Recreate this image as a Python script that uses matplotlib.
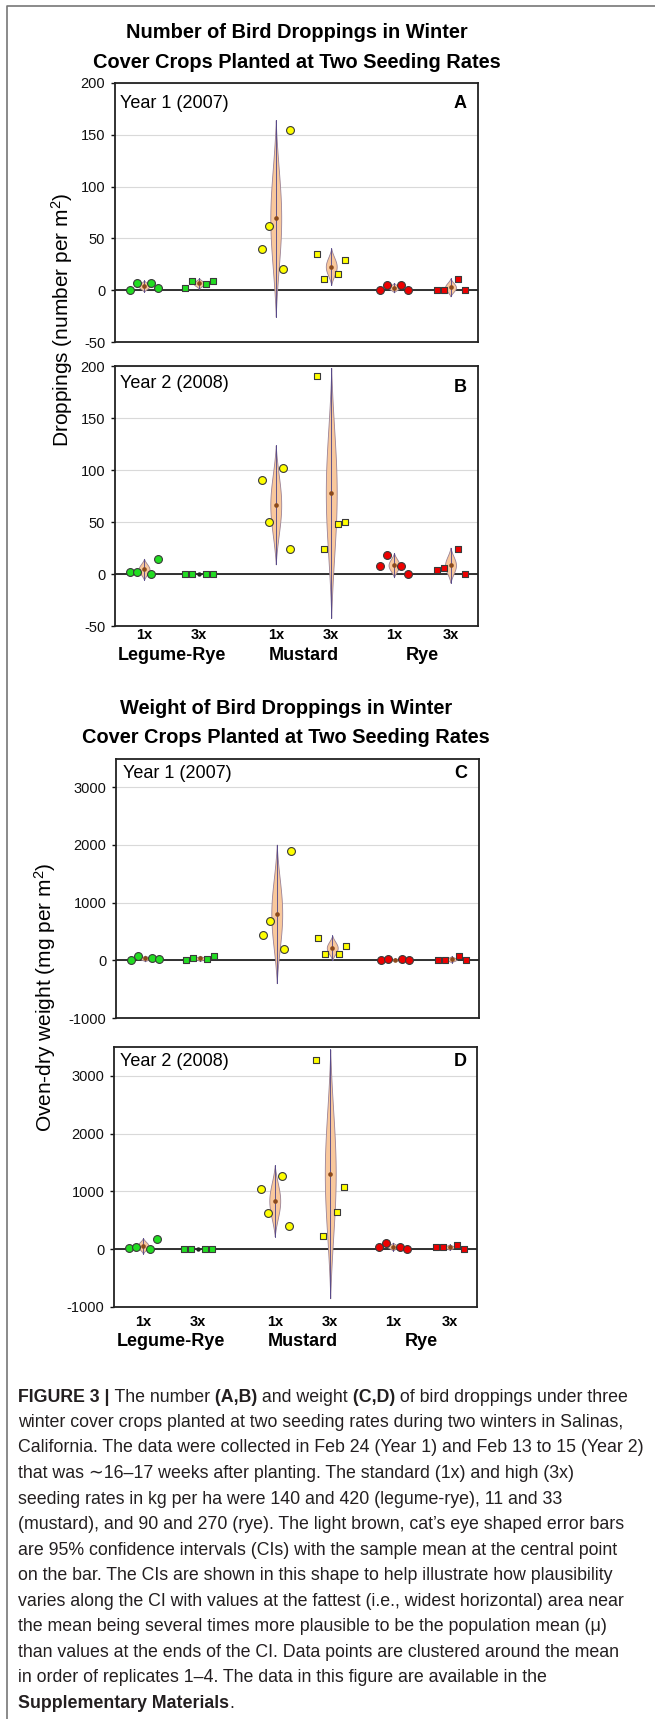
import matplotlib
matplotlib.use('Agg')
import matplotlib.pyplot as plt
import numpy as np
from matplotlib.lines import Line2D
from matplotlib.transforms import blended_transform_factory

W, H = 655, 1719

plt.rcParams['font.family'] = ['Liberation Sans', 'DejaVu Sans']
plt.rcParams['mathtext.fontset'] = 'custom'
plt.rcParams['mathtext.rm'] = 'Liberation Sans'
plt.rcParams['mathtext.it'] = 'Liberation Sans:italic'
plt.rcParams['mathtext.bf'] = 'Liberation Sans:bold'
plt.rcParams['axes.unicode_minus'] = False

# ---------------- data (4 replicates per treatment) ----------------
crops = ['Legume-Rye', 'Mustard', 'Rye']
rates = ['1x', '3x']
# order: Legume-Rye 1x, 3x, Mustard 1x, 3x, Rye 1x, 3x
num_y1 = [[0, 7, 7, 2], [2, 9, 6, 9], [40, 62, 20, 155],
          [35, 11, 16, 29], [0, 5, 5, 0], [0, 0, 11, 0]]
num_y2 = [[2, 2, 0, 14], [0, 0, 0, 0], [90, 50, 102, 24],
          [190, 24, 48, 50], [8, 18, 8, 0], [4, 6, 24, 0]]
wt_y1 = [[0, 75, 35, 20], [0, 40, 20, 70], [440, 680, 200, 1900],
         [394, 110, 110, 249], [0, 15, 30, 0], [0, 0, 70, 0]]
wt_y2 = [[15, 35, 0, 185], [0, 0, 0, 0], [1050, 635, 1260, 405],
         [3270, 236, 640, 1072], [40, 105, 35, 0], [35, 35, 75, 0]]

T95 = 3.182  # t critical, df = 3

crop_colors = ['#22dd22', '#ffff00', '#ee0000']
pos = [0.56, 1.62, 3.10, 4.17, 5.38, 6.47]
offsets = np.array([-0.27, -0.135, 0.135, 0.27])
EYE_W = 0.105

fig = plt.figure(figsize=(W / 100, H / 100), dpi=100)


def ftext(x, y, s, **kw):
    return fig.text(x / W, 1 - y / H, s, **kw)


def add_ax(l, r, t, b):
    return fig.add_axes([l / W, 1 - b / H, (r - l) / W, (b - t) / H])


def draw_panel(ax, data, ylim, ticks):
    ax.set_xlim(0, 7)
    ax.set_ylim(*ylim)
    ax.set_yticks(ticks)
    ax.set_xticks([])
    ax.grid(axis='y', color='#d9d9d9', lw=0.8)
    ax.set_axisbelow(True)
    for sp in ax.spines.values():
        sp.set_linewidth(1.3)
        sp.set_color('#222222')
    ax.tick_params(axis='y', length=3, width=1, pad=4, labelsize=10.5,
                   colors='#111111')
    ax.axhline(0, color='#222222', lw=1.3, zorder=1.5)
    for i, vals in enumerate(data):
        vals = np.array(vals, float)
        x0 = pos[i]
        m = vals.mean()
        se = vals.std(ddof=1) / 2
        h = T95 * se
        if h > 0:
            yy = np.linspace(m - h, m + h, 301)
            u = 1.96 * (yy - m) / h
            f = np.exp(-0.5 * u ** 2)
            f0 = np.exp(-0.5 * 1.96 ** 2)
            w = EYE_W * (f - f0) / (1 - f0)
            ax.fill_betweenx(yy, x0 - w, x0 + w, facecolor='#f9c89c',
                             edgecolor='#9a8296', lw=0.6, zorder=2)
            ax.plot([x0, x0], [m - h, m + h], color='#4a4088', lw=0.6,
                    zorder=2.5)
            ax.scatter([x0], [m], s=11, color='#8b4a1c', zorder=4,
                       linewidths=0)
        else:
            ax.scatter([x0], [m], s=10, color='#222222', zorder=4,
                       linewidths=0)
        mk = 'o' if i % 2 == 0 else 's'
        ax.scatter(x0 + offsets, vals, s=32 if mk == 'o' else 24, marker=mk,
                   c=crop_colors[i // 2], edgecolors='#3a3a3a',
                   linewidths=0.8, zorder=3)


def xlabels(ax, y_rate, y_crop):
    tr = blended_transform_factory(ax.transData, fig.transFigure)
    for i, p in enumerate(pos):
        ax.text(p, 1 - y_rate / H, rates[i % 2], transform=tr, ha='center',
                va='center', fontsize=10.5, fontweight='bold')
    for j, c in enumerate(crops):
        xc = (pos[2 * j] + pos[2 * j + 1]) / 2
        ax.text(xc, 1 - y_crop / H, c, transform=tr, ha='center',
                va='center', fontsize=13, fontweight='bold')


# ---------------- number panels ----------------
ftext(297, 33, 'Number of Bird Droppings in Winter', ha='center',
      va='center', fontsize=14.4, fontweight='bold')
ftext(297, 62, 'Cover Crops Planted at Two Seeding Rates', ha='center',
      va='center', fontsize=14.4, fontweight='bold')

axA = add_ax(115, 478, 83, 342)
draw_panel(axA, num_y1, (-50, 200), np.arange(-50, 201, 50))
axB = add_ax(115, 478, 366, 626)
draw_panel(axB, num_y2, (-50, 200), np.arange(-50, 201, 50))
xlabels(axB, 635, 655)

ftext(120, 104, 'Year 1 (2007)', ha='left', va='center', fontsize=13)
ftext(460, 103, 'A', ha='center', va='center', fontsize=13, fontweight='bold')
ftext(120, 384, 'Year 2 (2008)', ha='left', va='center', fontsize=13)
ftext(460, 387, 'B', ha='center', va='center', fontsize=13, fontweight='bold')

ftext(62, 320, 'Droppings (number per m$^2$)', ha='center', va='center',
      rotation=90, fontsize=15)

# ---------------- weight panels ----------------
ftext(286, 708, 'Weight of Bird Droppings in Winter', ha='center',
      va='center', fontsize=14.4, fontweight='bold')
ftext(286, 737, 'Cover Crops Planted at Two Seeding Rates', ha='center',
      va='center', fontsize=14.4, fontweight='bold')

axC = add_ax(116, 479, 759, 1018)
draw_panel(axC, wt_y1, (-1000, 3490), np.arange(-1000, 3001, 1000))
axD = add_ax(114, 477, 1047, 1307)
draw_panel(axD, wt_y2, (-1000, 3500), np.arange(-1000, 3001, 1000))
xlabels(axD, 1322, 1341)

ftext(123, 773, 'Year 1 (2007)', ha='left', va='center', fontsize=13)
ftext(461, 773, 'C', ha='center', va='center', fontsize=13, fontweight='bold')
ftext(120, 1061, 'Year 2 (2008)', ha='left', va='center', fontsize=13)
ftext(460, 1061, 'D', ha='center', va='center', fontsize=13, fontweight='bold')

ftext(45, 997, 'Oven-dry weight (mg per m$^2$)', ha='center', va='center',
      rotation=90, fontsize=15)

# ---------------- caption ----------------
caption = [
    [('FIGURE 3 |', 1), (' The number', 0), (' (A,B)', 1), (' and weight', 0),
     (' (C,D)', 1), (' of bird droppings under three', 0)],
    [('winter cover crops planted at two seeding rates during two winters in Salinas,', 0)],
    [('California. The data were collected in Feb 24 (Year 1) and Feb 13 to 15 (Year 2)', 0)],
    [('that was \u223c16\u201317 weeks after planting. The standard (1x) and high (3x)', 0)],
    [('seeding rates in kg per ha were 140 and 420 (legume-rye), 11 and 33', 0)],
    [('(mustard), and 90 and 270 (rye). The light brown, cat\u2019s eye shaped error bars', 0)],
    [('are 95% confidence intervals (CIs) with the sample mean at the central point', 0)],
    [('on the bar. The CIs are shown in this shape to help illustrate how plausibility', 0)],
    [('varies along the CI with values at the fattest (i.e., widest horizontal) area near', 0)],
    [('the mean being several times more plausible to be the population mean (\u03bc)', 0)],
    [('than values at the ends of the CI. Data points are clustered around the mean', 0)],
    [('in order of replicates 1\u20134. The data in this figure are available in the', 0)],
    [('Supplementary Materials', 1), ('.', 0)],
]

renderer = fig.canvas.get_renderer()
for k, parts in enumerate(caption):
    y = 1397 + k * 25.5
    x = 18
    for s, b in parts:
        t = ftext(x, y, s, ha='left', va='center', fontsize=12.8,
                  color='#231f20', fontweight='bold' if b else 'normal')
        x += t.get_window_extent(renderer).width

# outer frame
fig.add_artist(Line2D([7 / W, 7 / W, 1], [0, 1 - 6 / H, 1 - 6 / H],
                      transform=fig.transFigure, color='#777777', lw=1.2))

fig.savefig('out.png', dpi=100)
